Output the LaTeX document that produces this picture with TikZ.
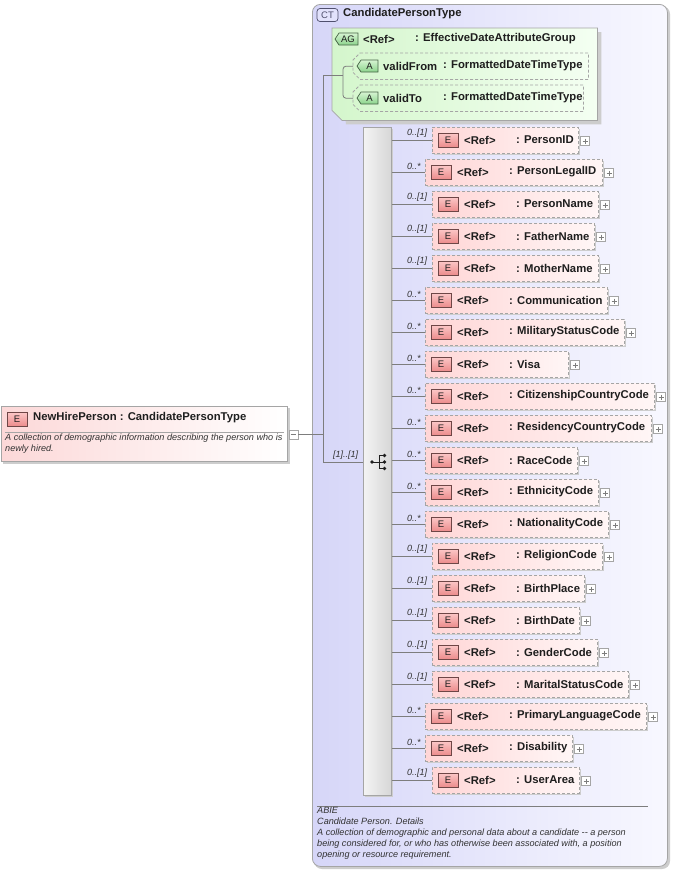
\documentclass[tikz,border=0pt]{standalone}
\usepackage{fontspec}
\setmainfont{Liberation Sans}
\usetikzlibrary{calc}
\definecolor{ctL}{RGB}{214,214,248}
\definecolor{ctR}{RGB}{248,248,255}
\definecolor{agL}{RGB}{212,246,204}
\definecolor{agR}{RGB}{244,255,242}
\definecolor{elL}{RGB}{255,214,214}
\definecolor{elR}{RGB}{255,246,246}
\definecolor{nhL}{RGB}{252,216,216}
\definecolor{nhR}{RGB}{255,255,255}
\definecolor{bgray}{RGB}{165,165,165}
\definecolor{cgray}{RGB}{125,125,125}
\definecolor{shadowc}{RGB}{205,205,205}
\definecolor{ebt}{RGB}{252,200,200}
\definecolor{ebb}{RGB}{236,140,140}
\definecolor{ebd}{RGB}{110,70,70}
\definecolor{abt}{RGB}{214,244,210}
\definecolor{abb}{RGB}{140,212,140}
\definecolor{abd}{RGB}{70,100,70}
\definecolor{ctbf}{RGB}{226,226,252}
\definecolor{ctbd}{RGB}{80,80,110}
\definecolor{txt}{RGB}{30,30,30}
\definecolor{dtxt}{RGB}{50,50,50}
\definecolor{seqL}{RGB}{244,244,244}
\definecolor{seqR}{RGB}{214,214,214}
\newcommand\elrow[6]{%
  \fill[shadowc] (#3+2,#2-12) rectangle (#4+2,#2+14);
  \node[elbox, anchor=north west, minimum width={#4-#3}, minimum height=26] (#1) at (#3,#2-14) {};
  \node[ebadge] (#1b) at (#3+16,#2-1) {E};
  \node[bt, anchor=west] (#1r) at (#3+32,#2-1) {<Ref>};
  \node[bt, anchor=west] (#1n) at (#3+84,#2-1) {: #6};
  \node[plusbox] (#1p) at (#4+7,#2) {};
  \node[mult, anchor=south west] (#1m) at (407,#2-3) {#5};
  \draw[conn] (seq.east |- #1.west) -- (#1.west);
}
\begin{document}
\begin{tikzpicture}[x=1pt,y=-1pt,
  bt/.style={inner sep=0, font=\fontsize{11.3}{13}\selectfont\bfseries, text=txt},
  mult/.style={inner sep=0, font=\fontsize{9}{10}\selectfont\itshape, text=dtxt},
  desc/.style={inner sep=0, font=\fontsize{9.1}{11}\selectfont\itshape, text=dtxt, align=left},
  ebadge/.style={draw=ebd, top color=ebt, bottom color=ebb, minimum width=20, minimum height=14, inner sep=0, line width=0.7, font=\fontsize{9.5}{10}\selectfont, text=txt},
  elbox/.style={draw=bgray, dash pattern=on 3pt off 2pt, line width=0.8, left color=elL, right color=elR, inner sep=0},
  plusbox/.style={draw=bgray, fill=white, minimum size=9, inner sep=0, line width=0.6,
    path picture={\draw[cgray, line width=0.6] ([xshift=2]path picture bounding box.west) -- ([xshift=-2]path picture bounding box.east) ([yshift=-2]path picture bounding box.north) -- ([yshift=2]path picture bounding box.south);}},
  conn/.style={draw=cgray, line width=0.8},
  attrb/.style={draw=bgray, dash pattern=on 3pt off 2pt, line width=0.8},
  abadge/.style={draw=abd, top color=abt, bottom color=abb, line width=0.7},
]
\useasboundingbox (0,0) rectangle (672,870);
\fill[white] (0,0) rectangle (672,870);

% ---- complex type box
\fill[shadowc, rounded corners=8] (314,6) rectangle (670,869);
\node[draw=bgray, line width=0.8, rounded corners=8, left color=ctL, right color=ctR, anchor=north west, minimum width=355, minimum height=862, inner sep=0] (ct) at (312,4) {};
\node[draw=ctbd, fill=ctbf, rounded corners=3, minimum width=21, minimum height=13, inner sep=0, line width=0.7, font=\fontsize{9.5}{10}\selectfont, text=ctbd] (ctb) at (327.5,15) {CT};
\node[bt, anchor=west] (ctt) at (343,14) {CandidatePersonType};

% ---- attribute group
\node[inner sep=0, minimum width=265, minimum height=92, anchor=north west] (ag) at (332,28) {};
\fill[shadowc] ([shift={(4,4)}]ag.north west) -- ([shift={(4,4)}]ag.north east) -- ([shift={(4,4)}]ag.south east) -- ([shift={(14,4)}]ag.south west) -- cycle;
\shadedraw[left color=agL, right color=agR, draw=bgray, line width=0.8] (ag.north west) -- (ag.north east) -- (ag.south east) -- ([xshift=10]ag.south west) -- ([yshift=10]ag.south west) -- cycle;
\shadedraw[abadge] (335,39) -- (339,33) -- (358,33) -- (358,45) -- (339,45) -- cycle;
\node[inner sep=0, font=\fontsize{9.5}{10}\selectfont, text=txt] (agb) at (348,39) {AG};
\node[bt, anchor=west] (agr) at (363,39) {<Ref>};
\node[bt, anchor=west] (agn) at (415,39) {: EffectiveDateAttributeGroup};

% attributes
\node[inner sep=0, minimum width=235, minimum height=26, anchor=north west] (vf) at (353,53) {};
\draw[attrb] ([xshift=7]vf.north west) -- (vf.north east) -- (vf.south east) -- ([xshift=7]vf.south west) -- ([yshift=7]vf.south west) -- ([yshift=-7]vf.north west) -- cycle;
\shadedraw[abadge] (357,66) -- (361,60) -- (378,60) -- (378,72) -- (361,72) -- cycle;
\node[inner sep=0, font=\fontsize{9.5}{10}\selectfont, text=txt] (vfb) at (369.5,66) {A};
\node[bt, anchor=west] (vft) at (383,66) {validFrom};
\node[bt, anchor=west] (vfn) at (443,66) {: FormattedDateTimeType};

\node[inner sep=0, minimum width=230, minimum height=26, anchor=north west] (vt) at (353,85) {};
\draw[attrb] ([xshift=7]vt.north west) -- (vt.north east) -- (vt.south east) -- ([xshift=7]vt.south west) -- ([yshift=7]vt.south west) -- ([yshift=-7]vt.north west) -- cycle;
\shadedraw[abadge] (357,98) -- (361,92) -- (378,92) -- (378,104) -- (361,104) -- cycle;
\node[inner sep=0, font=\fontsize{9.5}{10}\selectfont, text=txt] (vtb) at (369.5,98) {A};
\node[bt, anchor=west] (vtt) at (383,98) {validTo};
\node[bt, anchor=west] (vtn) at (443,98) {: FormattedDateTimeType};

% ---- sequence bar
\fill[shadowc] (365,129) rectangle (393,797);
\node[draw=bgray, line width=0.8, left color=seqL, right color=seqR, anchor=north west, minimum width=28, minimum height=668, inner sep=0] (seq) at (363,127) {};
\fill[txt] (372,462) circle (1.8);
\draw[txt, line width=0.9] (372,462) -- (379,462) (379,455.5) -- (379,468.5) (379,455.5) -- (384,455.5) (379,468.5) -- (384,468.5) (379,462) -- (384,462);
\fill[txt] (384.5,455.5) circle (1.8) (384.5,462) circle (1.8) (384.5,468.5) circle (1.8);

% ---- NewHirePerson
\fill[shadowc] (3,408) rectangle (290,464);
\node[draw=bgray, line width=0.8, left color=nhL, right color=nhR, anchor=north west, minimum width=286, minimum height=55, inner sep=0] (nh) at (1,406) {};
\node[ebadge] (nhb) at (17,419) {E};
\node[bt, anchor=west] (nht) at (33,418) {NewHirePerson : CandidatePersonType};
\draw[bgray, line width=0.8] (5,432) -- (284,432);
\node[desc, anchor=north west] (nhd) at (5,433.5) {A collection of demographic information describing the person who is\\newly hired.};
\node[draw=bgray, fill=white, minimum size=9, inner sep=0, line width=0.6] (mb) at (293.5,434.5) {};
\draw[cgray, line width=0.6] ([xshift=2]mb.west) -- ([xshift=-2]mb.east);

% ---- connectors
\coordinate (jt) at (323,75);
\coordinate (jb) at (323,462);
\coordinate (ja) at (343,75);
\draw[conn] (mb.east) -- (mb.east -| jt);
\draw[conn] (jt) -- (jb);
\draw[conn] (jt) -- (ja);
\draw[conn, rounded corners=3] (vf.west) -- (ja |- vf.west) -- (ja |- vt.west) -- (vt.west);
\draw[conn] (jb) -- (jb -| seq.west);
\node[mult, anchor=west] (seqm) at (333,455) {[1]..[1]};

% ---- elements
\elrow{e1}{141}{432}{578}{0..[1]}{PersonID}
\elrow{e2}{173}{425}{602}{0..*}{PersonLegalID}
\elrow{e3}{205}{432}{598}{0..[1]}{PersonName}
\elrow{e4}{237}{432}{594}{0..[1]}{FatherName}
\elrow{e5}{269}{432}{598}{0..[1]}{MotherName}
\elrow{e6}{301}{425}{607}{0..*}{Communication}
\elrow{e7}{333}{425}{624}{0..*}{MilitaryStatusCode}
\elrow{e8}{365}{425}{568}{0..*}{Visa}
\elrow{e9}{397}{425}{654}{0..*}{CitizenshipCountryCode}
\elrow{e10}{429}{425}{651}{0..*}{ResidencyCountryCode}
\elrow{e11}{461}{425}{577}{0..*}{RaceCode}
\elrow{e12}{493}{425}{598}{0..*}{EthnicityCode}
\elrow{e13}{525}{425}{608}{0..*}{NationalityCode}
\elrow{e14}{557}{432}{602}{0..[1]}{ReligionCode}
\elrow{e15}{589}{432}{584}{0..[1]}{BirthPlace}
\elrow{e16}{621}{432}{579}{0..[1]}{BirthDate}
\elrow{e17}{653}{432}{597}{0..[1]}{GenderCode}
\elrow{e18}{685}{432}{628}{0..[1]}{MaritalStatusCode}
\elrow{e19}{717}{425}{646}{0..*}{PrimaryLanguageCode}
\elrow{e20}{749}{425}{572}{0..*}{Disability}
\elrow{e21}{781}{432}{579}{0..[1]}{UserArea}

% ---- documentation
\draw[cgray, line width=0.8] (317,806) -- (648,806);
\node[desc, anchor=north west] (doc) at (317,807.5) {ABIE\\Candidate Person. Details\\A collection of demographic and personal data about a candidate -{}- a person\\being considered for, or who has otherwise been associated with, a position\\opening or resource requirement.};
\end{tikzpicture}
\end{document}
